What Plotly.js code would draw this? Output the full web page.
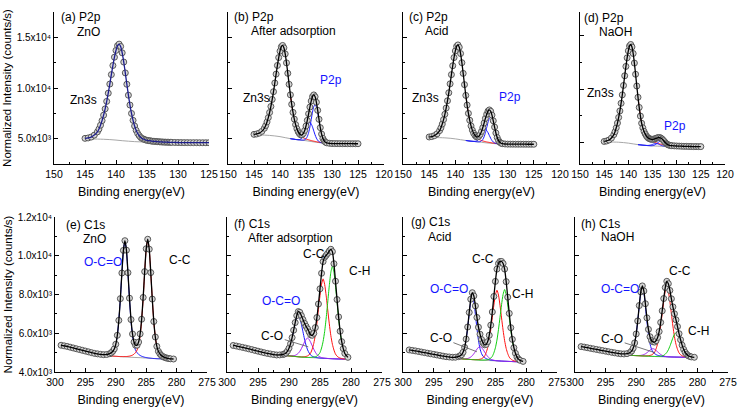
<!DOCTYPE html>
<html><head><meta charset="utf-8">
<script src="https://cdn.plot.ly/plotly-3.0.1.min.js"></script>
<style>html,body{margin:0;padding:0;background:#fff}#chart{width:738px;height:409px}</style>
</head><body><div id="chart"></div>
<script>
// ---------- P2p / Zn3s region (top row) ----------
const be_top = [145,144.5,144,143.5,143,142.75,142.5,142.25,142,141.75,141.5,141.25,141,140.75,140.5,140.25,140,139.75,139.5,139.25,139,138.75,138.5,138.25,138,137.75,137.5,137.25,137,136.75,136.5,136.25,136,135.75,135.5,135.25,135,134.75,134.5,134.25,134,133.75,133.5,133.25,133,132.75,132.5,132.25,132,131.75,131.5,131.25,131,130.5,130,129.5,129,128.5,128,127.5,127,126.5,126,125.5,125];
const p2p_a = [5030,5070,5160,5350,5670,5950,6330,6780,7320,7940,8680,9490,10390,11320,12220,13040,13710,14180,14330,14100,13470,12560,11490,10370,9290,8320,7490,6810,6250,5820,5510,5290,5110,5010,4940,4880,4840,4810,4790,4760,4740,4730,4720,4700,4690,4680,4670,4660,4655,4650,4645,4640,4635,4625,4620,4615,4610,4610,4605,4605,4605,4600,4600,4600,4600];
const p2p_b = [5425,5463,5546,5719,6029,6292,6647,7075,7583,8177,8870,9636,10492,11371,12222,13001,13635,14071,14200,13967,13363,12478,11448,10365,9326,8392,7594,6931,6386,5978,5682,5485,5366,5384,5525,5812,6247,6807,7455,8116,8711,9149,9316,9132,8592,7795,6910,6088,5455,5028,4783,4648,4587,4542,4520,4516,4512,4508,4505,4504,4503,4502,4501,4500,4500];
const p2p_c = [5167,5208,5296,5477,5798,6073,6440,6882,7408,8021,8737,9528,10412,11319,12197,13002,13657,14112,14250,14016,13400,12496,11442,10333,9270,8313,7494,6816,6258,5840,5536,5329,5190,5168,5241,5423,5713,6096,6545,7003,7414,7721,7836,7706,7325,6763,6142,5561,5117,4815,4646,4550,4509,4476,4460,4459,4458,4456,4455,4454,4453,4452,4451,4450,4450];
const p2p_d = [5106,5151,5240,5423,5744,6017,6384,6824,7348,7958,8672,9458,10337,11241,12116,12918,13571,14026,14165,13935,13325,12430,11385,10286,9232,8285,7477,6808,6379,6045,5804,5614,5473,5390,5337,5309,5299,5318,5355,5404,5444,5474,5468,5416,5328,5207,5073,4948,4856,4792,4751,4725,4709,4694,4681,4671,4661,4650,4649,4638,4637,4627,4626,4625,4625];

const be_top_comp = [138,137.75,137.5,137.25,137,136.75,136.5,136.25,136,135.75,135.5,135.25,135,134.75,134.5,134.25,134,133.75,133.5,133.25,133,132.75,132.5,132.25,132,131.75,131.5,131.25,131,130.75,130.5];
const zn3s_b = [9326,8392,7594,6931,6386,5973,5668,5445,5267,5162,5083,5023,4972,4925,4887,4849,4811,4781,4752,4723,4694,4670,4655,4631,4616,4597,4587,4568,4558,4548,4539];
const p2p32_b = [5000,4980,4960,4940,4920,4905,4890,4875,4861,4854,4859,4895,4996,5206,5585,6157,6877,7612,8165,8360,8125,7537,6767,6012,5405,4996,4756,4630,4569,4544,4533];
const p2p12_b = [5000,4980,4960,4940,4920,4910,4904,4915,4958,5058,5243,5524,5879,6236,6503,6590,6463,6156,5759,5369,5053,4838,4708,4635,4594,4575,4560,4550,4540,4535,4530];
const zn3s_c = [9270,8313,7494,6816,6258,5837,5526,5300,5119,5011,4931,4869,4817,4774,4740,4707,4673,4652,4629,4608,4586,4567,4557,4537,4527,4513,4508,4494,4489,4482,4474];
const p2p32_c = [4820,4803,4785,4768,4750,4738,4725,4714,4702,4692,4690,4711,4778,4924,5190,5591,6096,6614,7004,7143,6979,6566,6026,5496,5070,4784,4618,4531,4490,4475,4467];
const p2p12_c = [4820,4803,4785,4768,4750,4741,4735,4741,4769,4835,4960,5153,5398,5648,5835,5895,5805,5591,5313,5041,4820,4670,4579,4528,4500,4488,4480,4475,4470,4468,4465];
const zn3s_d = [9232,8285,7477,6808,6379,6045,5804,5609,5460,5361,5279,5207,5134,5074,5022,4980,4938,4907,4876,4844,4822,4801,4780,4759,4747,4737,4726,4715,4705,4700,4694];
const p2p32_d = [4810,4798,4785,4773,4760,4750,4740,4730,4720,4714,4709,4708,4715,4740,4787,4859,4950,5044,5115,5139,5107,5031,4930,4832,4752,4699,4668,4651,4644,4640,4638];
const p2p12_d = [4810,4798,4785,4773,4760,4750,4742,4735,4733,4741,4759,4790,4830,4874,4906,4915,4896,4855,4803,4751,4709,4681,4663,4653,4647,4644,4643,4641,4640,4639,4638];

const bgx_top = [145,143,142,141,140,139,138,137,136,135,134,133,132,131,130,128,125];
const bg_a = [4980,4960,4940,4910,4860,4800,4750,4710,4680,4660,4645,4635,4625,4618,4612,4605,4600];
const bg_b = [5380,5350,5320,5270,5200,5100,5000,4920,4860,4800,4720,4640,4580,4540,4520,4505,4500];
const bg_c = [5120,5100,5080,5040,4980,4900,4820,4750,4700,4640,4580,4530,4490,4470,4460,4455,4450];
const bg_d = [5060,5050,5035,5000,4950,4880,4810,4760,4720,4690,4670,4655,4645,4640,4635,4630,4625];

// ---------- C1s region (bottom row) ----------
const be_bot = [299,298.5,298,297.5,297,296.5,296,295.5,295,294.5,294,293.5,293,292.5,292,291.5,291,290.75,290.5,290.25,290,289.75,289.5,289.25,289,288.75,288.5,288.25,288,287.75,287.5,287.25,287,286.75,286.5,286.25,286,285.75,285.5,285.25,285,284.75,284.5,284.25,284,283.75,283.5,283.25,283,282.75,282.5,282.25,282,281.75,281.5,281.25,281,280.5];
const c1s_e = [5380,5350,5320,5280,5240,5200,5160,5120,5080,5040,5000,4960,4936,4912,4894,4904,4944,4992,5071,5192,5432,5893,6666,7785,9108,10275,10778,10289,9125,7810,6706,5960,5545,5383,5383,5546,5968,6723,7846,9181,10362,10852,10338,9131,7764,6606,5806,5323,5070,4939,4851,4794,4756,4729,4709,4694,4680,4671];
const c1s_f = [5370,5340,5305,5270,5235,5195,5155,5115,5075,5035,4995,4960,4930,4902,4879,4882,4903,4928,4976,5078,5228,5459,5775,6157,6552,6909,7118,7076,6907,6706,6516,6360,6223,6064,5914,5895,5994,6292,6810,7511,8293,9095,9697,9923,10023,10126,10248,10334,10211,9588,8686,7740,6843,6105,5566,5207,4957,4756];
const c1s_g = [5140,5115,5090,5060,5030,5000,4970,4940,4910,4880,4850,4820,4790,4775,4760,4762,4792,4830,4890,5018,5271,5699,6322,7074,7756,8093,7929,7412,6816,6312,5951,5678,5498,5402,5425,5569,5894,6419,7099,7899,8676,9311,9599,9706,9705,9601,9314,8663,7862,7025,6287,5685,5253,4966,4767,4664,4603,4546];
const c1s_h = [5310,5285,5255,5225,5195,5165,5135,5105,5075,5045,5015,4989,4962,4939,4932,4948,5010,5082,5225,5502,5964,6635,7430,8135,8444,8181,7524,6794,6199,5821,5625,5558,5545,5620,5780,6088,6558,7156,7792,8359,8680,8558,8209,7779,7362,7005,6693,6344,5977,5663,5387,5171,5015,4913,4840,4804,4779,4759];

const be_bot_comp = [291.5,291.25,291,290.75,290.5,290.25,290,289.75,289.5,289.25,289,288.75,288.5,288.25,288,287.75,287.5,287.25,287,286.75,286.5,286.25,286,285.75,285.5,285.25,285,284.75,284.5,284.25,284,283.75,283.5,283.25,283,282.75,282.5,282.25,282,281.75,281.5,281.25,281];
const oco_e = [4904,4918,4944,4992,5071,5192,5432,5893,6666,7785,9108,10275,10760,10265,9088,7755,6626,5844,5374,5126,4997,4910,4854,4814,4786,4762,4744,4732,4720,4712,4704,4697,4692,4687,4684,4682,4680,4678,4676,4674,4672,4670,4668];
const cc_e = [4850,4840,4830,4825,4820,4815,4810,4805,4800,4795,4796,4794,4798,4799,4807,4820,4840,4872,4923,5006,5132,5379,5854,6645,7792,9145,10338,10834,10326,9122,7758,6603,5804,5323,5070,4939,4851,4794,4756,4729,4709,4694,4680];
const oco_f = [4882,4890,4903,4927,4974,5074,5221,5447,5755,6122,6492,6797,6935,6782,6462,6079,5700,5379,5141,4983,4871,4814,4778,4756,4740,4729,4719,4713,4707,4704,4700,4696,4692,4689,4685,4682,4678,4675,4672,4670,4667,4665,4662];
const co_f = [4867,4864,4860,4853,4847,4841,4837,4835,4835,4843,4860,4903,4967,5068,5207,5376,5547,5687,5750,5678,5529,5350,5172,5020,4907,4830,4775,4746,4727,4716,4707,4700,4694,4690,4685,4682,4678,4675,4672,4670,4667,4665,4662];
const cc_f = [4867,4864,4860,4852,4845,4837,4830,4823,4815,4808,4800,4795,4786,4782,4778,4781,4789,4804,4832,4890,4988,5190,5481,5919,6517,7225,7942,8532,8807,8525,7927,7201,6484,5878,5431,5133,4924,4819,4754,4719,4696,4681,4670];
const ch_f = [4867,4864,4860,4852,4845,4837,4830,4823,4815,4808,4800,4793,4785,4778,4770,4765,4760,4755,4750,4751,4752,4758,4768,4787,4821,4887,5002,5237,5577,6090,6789,7617,8454,9144,9465,9137,8440,7596,6761,6056,5537,5191,4949];
const oco_g = [4762,4772,4791,4827,4885,5010,5257,5674,6280,6997,7629,7890,7619,6977,6250,5634,5207,4949,4812,4740,4691,4658,4634,4617,4605,4594,4587,4580,4575,4569,4562,4558,4555,4551,4548,4545,4542,4539,4536,4533,4530,4527,4525];
const co_g = [4720,4710,4701,4693,4685,4680,4679,4685,4697,4727,4772,4843,4941,5058,5176,5272,5315,5263,5158,5031,4906,4799,4719,4665,4627,4606,4591,4581,4575,4569,4563,4558,4555,4551,4548,4545,4542,4539,4536,4533,4530,4527,4525];
const cc_g = [4720,4710,4700,4690,4680,4672,4665,4660,4655,4650,4645,4640,4639,4637,4640,4646,4659,4684,4735,4822,5002,5260,5651,6183,6815,7454,7979,8223,7972,7439,6792,6153,5614,5215,4950,4764,4670,4612,4580,4559,4545,4534,4529];
const ch_g = [4720,4710,4700,4690,4680,4672,4665,4660,4655,4650,4645,4640,4635,4630,4625,4620,4615,4615,4614,4618,4626,4640,4666,4718,4807,4988,5250,5646,6187,6827,7474,8006,8255,7999,7460,6806,6159,5612,5209,4940,4752,4657,4599];
const oco_h = [4948,4970,5010,5081,5223,5499,5959,6627,7416,8111,8400,8104,7401,6604,5929,5462,5179,5029,4950,4898,4863,4839,4822,4809,4799,4794,4787,4783,4780,4776,4773,4771,4769,4768,4766,4765,4763,4762,4760,4759,4757,4756,4754];
const co_h = [4880,4870,4860,4857,4854,4852,4850,4850,4852,4858,4874,4900,4939,4994,5059,5127,5181,5204,5173,5113,5039,4968,4906,4861,4829,4807,4794,4786,4781,4777,4774,4772,4770,4768,4766,4765,4763,4762,4760,4759,4757,4756,4754];
const cc_h = [4880,4870,4860,4856,4852,4849,4845,4842,4838,4834,4830,4831,4830,4834,4841,4856,4881,4932,5019,5200,5459,5852,6385,7018,7658,8185,8430,8180,7649,7004,6367,5830,5433,5170,4985,4893,4836,4806,4786,4774,4764,4760,4754];
const ch_h = [4880,4870,4860,4856,4852,4849,4845,4842,4838,4834,4830,4827,4823,4819,4815,4812,4808,4805,4803,4803,4804,4808,4815,4832,4861,4922,5009,5143,5327,5544,5764,5945,6029,5942,5758,5535,5314,5127,4989,4898,4833,4800,4779];

const bgx_bot = [291.5,291,290,289,288,287,286,285,284,283,282,281,280.5];
const bg_e = [4850,4830,4810,4790,4770,4752,4740,4720,4698,4684,4676,4668,4665];
const bg_f = [4867,4860,4830,4800,4770,4750,4735,4715,4700,4685,4672,4662,4660];
const bg_g = [4720,4700,4665,4645,4625,4607,4592,4577,4562,4548,4536,4525,4520];
const bg_h = [4880,4860,4845,4830,4815,4800,4790,4780,4772,4766,4760,4754,4750];

const yticks_top = [5000,10000,15000];
const yticktext_top = ['5.0x10³','1.0x10⁴','1.5x10⁴'];
const yticks_bot = [4000,6000,8000,10000,12000];
const yticktext_bot = ['4.0x10³','6.0x10³','8.0x10³','1.0x10⁴','1.2x10⁴'];

// ---------- build ----------
const W = 738, H = 409;
const FONT = 'Liberation Sans, DejaVu Sans, Arial, sans-serif';
const RED = '#ff1010', BLUE = '#1414ff', GREEN = '#10d010', PURPLE = '#a020f0', BGC = '#a8a8a8';

const panels = [
  {ax:'', data:p2p_a, x:be_top, env:'#1c1c8c', bgx:bgx_top, bg:bg_a, cx:be_top_comp, comps:[]},
  {ax:'2', data:p2p_b, x:be_top, env:'#000', bgx:bgx_top, bg:bg_b, cx:be_top_comp, comps:[[zn3s_b,RED],[p2p32_b,BLUE],[p2p12_b,BLUE]]},
  {ax:'3', data:p2p_c, x:be_top, env:'#000', bgx:bgx_top, bg:bg_c, cx:be_top_comp, comps:[[zn3s_c,RED],[p2p32_c,BLUE],[p2p12_c,BLUE]]},
  {ax:'4', data:p2p_d, x:be_top, env:'#000', bgx:bgx_top, bg:bg_d, cx:be_top_comp, comps:[[zn3s_d,RED],[p2p32_d,BLUE],[p2p12_d,BLUE]]},
  {ax:'5', data:c1s_e, x:be_bot, env:'#000', bgx:bgx_bot, bg:bg_e, cx:be_bot_comp, comps:[[oco_e,BLUE],[cc_e,RED]]},
  {ax:'6', data:c1s_f, x:be_bot, env:'#000', bgx:bgx_bot, bg:bg_f, cx:be_bot_comp, comps:[[oco_f,BLUE],[co_f,PURPLE],[cc_f,RED],[ch_f,GREEN]]},
  {ax:'7', data:c1s_g, x:be_bot, env:'#000', bgx:bgx_bot, bg:bg_g, cx:be_bot_comp, comps:[[oco_g,BLUE],[co_g,PURPLE],[cc_g,RED],[ch_g,GREEN]]},
  {ax:'8', data:c1s_h, x:be_bot, env:'#000', bgx:bgx_bot, bg:bg_h, cx:be_bot_comp, comps:[[oco_h,BLUE],[co_h,PURPLE],[cc_h,RED],[ch_h,GREEN]]}
];

const traces = [];
panels.forEach(p => {
  const xa = 'x' + p.ax, ya = 'y' + p.ax;
  traces.push({x:p.bgx, y:p.bg, xaxis:xa, yaxis:ya, mode:'lines', line:{color:BGC, width:1, shape:'spline'}, hoverinfo:'skip'});
  p.comps.forEach(c => traces.push({x:p.cx, y:c[0], xaxis:xa, yaxis:ya, mode:'lines', line:{color:c[1], width:1, shape:'spline', smoothing:0.6}, hoverinfo:'skip'}));
  traces.push({x:p.x, y:p.data, xaxis:xa, yaxis:ya, mode:'markers', marker:{symbol:'circle', size:6, color:'#d6d6d6', line:{width:0.9, color:'#4a4a4a'}}});
  traces.push({x:p.x, y:p.data, xaxis:xa, yaxis:ya, mode:'lines', line:{color:p.env, width:1.3, shape:'spline', smoothing:0.6}, hoverinfo:'skip'});
});

const xPix = [[54,209],[228,384],[403,560],[580,725],[55,207],[227,382],[403,557],[575,728]];
const xRanges = [[150,125],[150,120],[150,120],[150,120],[300,275],[300,275],[300,275],[300,275]];
const yRanges = [[2500,17500],[2500,17500],[2500,17500],[3000,17200],[4000,12000],[4000,12000],[4000,12000],[4000,12000]];
const topDom = [1-164/H, 1-12/H], botDom = [1-372/H, 1-217/H];

const layout = {
  width:W, height:H, margin:{l:0,r:0,t:0,b:0}, showlegend:false,
  paper_bgcolor:'#fff', plot_bgcolor:'rgba(0,0,0,0)',
  font:{family:FONT, color:'#000', size:11},
  annotations:[]
};
for (let i=0;i<8;i++){
  const s = i===0 ? '' : String(i+1);
  const top = i<4;
  layout['xaxis'+s] = {
    domain:[xPix[i][0]/W, xPix[i][1]/W], range:xRanges[i], anchor:'y'+s,
    showline:true, linecolor:'#000', linewidth:1, showgrid:false, zeroline:false,
    ticks:'inside', ticklen:4, tickcolor:'#000', dtick:5, tick0:0,
    minor:{ticks:'inside', ticklen:2, dtick:2.5, tick0:0, tickcolor:'#000'},
    tickfont:{size:10.5, family:FONT},
    title:{text:'Binding energy(eV)', font:{size:12.5, family:FONT}, standoff:8}
  };
  const ya = {
    domain: top ? topDom : botDom, range:yRanges[i], anchor:'x'+s,
    showline:true, linecolor:'#000', linewidth:1, showgrid:false, zeroline:false,
    ticks:'inside', ticklen:4, tickcolor:'#000',
    tickmode:'array', tickvals: top ? yticks_top : yticks_bot,
    minor:{ticks:'inside', ticklen:2, tickmode:'linear', tick0:0, dtick: top ? 2500 : 1000, tickcolor:'#000'},
    showticklabels:(i===0||i===4),
    ticktext: top ? yticktext_top : yticktext_bot,
    tickfont:{size:10, family:FONT}
  };
  if (i===0||i===4) ya.title = {text:'Normalized Intensity (counts/s)', font:{size:11.5, family:FONT}, standoff:2};
  layout['yaxis'+s] = ya;
}

function lab(px, py, text, color){
  return {xref:'paper', yref:'paper', x:px/W, y:1-py/H, xanchor:'left', yanchor:'middle',
          text:text, showarrow:false, font:{size:12, family:FONT, color:color||'#000'}};
}
const labels = [
  [59,17,'(a) P2p'],[75,32,'ZnO'],[68,100,'Zn3s'],
  [232,17,'(b) P2p'],[249,31,'After adsorption'],[241,98,'Zn3s'],[318,80,'P2p',BLUE],
  [407,17,'(c) P2p'],[423,31,'Acid'],[410,98,'Zn3s'],[497,97,'P2p',BLUE],
  [582,18,'(d) P2p'],[597,32,'NaOH'],[585,93,'Zn3s'],[662,126,'P2p',BLUE],
  [64,225,'(e) C1s'],[81,239,'ZnO'],[82,262,'O-C=O',BLUE],[167,260,'C-C'],
  [232,224,'(f) C1s'],[246,238,'After adsorption'],[301,254,'C-C'],[347,271,'C-H'],[260,301,'O-C=O',BLUE],
  [409,222,'(g) C1s'],[426,237,'Acid'],[470,259,'C-C'],[510,294,'C-H'],[428,289,'O-C=O',BLUE],
  [579,224,'(h) C1s'],[599,237,'NaOH'],[667,271,'C-C'],[686,331,'C-H'],[599,289,'O-C=O',BLUE]
];
labels.forEach(l => layout.annotations.push(lab(l[0], l[1], l[2], l[3])));
// C-O labels with leader lines to the C-O component
const coLeaders = [['x6','y6',286.9,5300,-36,-11],['x7','y7',288.0,5043,-36,-14],['x8','y8',286.9,4992,-43,-14]];
coLeaders.forEach(c => layout.annotations.push({xref:c[0], yref:c[1], x:c[2], y:c[3], ax:c[4], ay:c[5],
  text:'C-O', showarrow:true, arrowhead:0, arrowwidth:0.8, arrowcolor:'#555', standoff:0,
  font:{size:12, family:FONT, color:'#000'}}));

Plotly.newPlot('chart', traces, layout, {staticPlot:true, displayModeBar:false});
</script></body></html>
